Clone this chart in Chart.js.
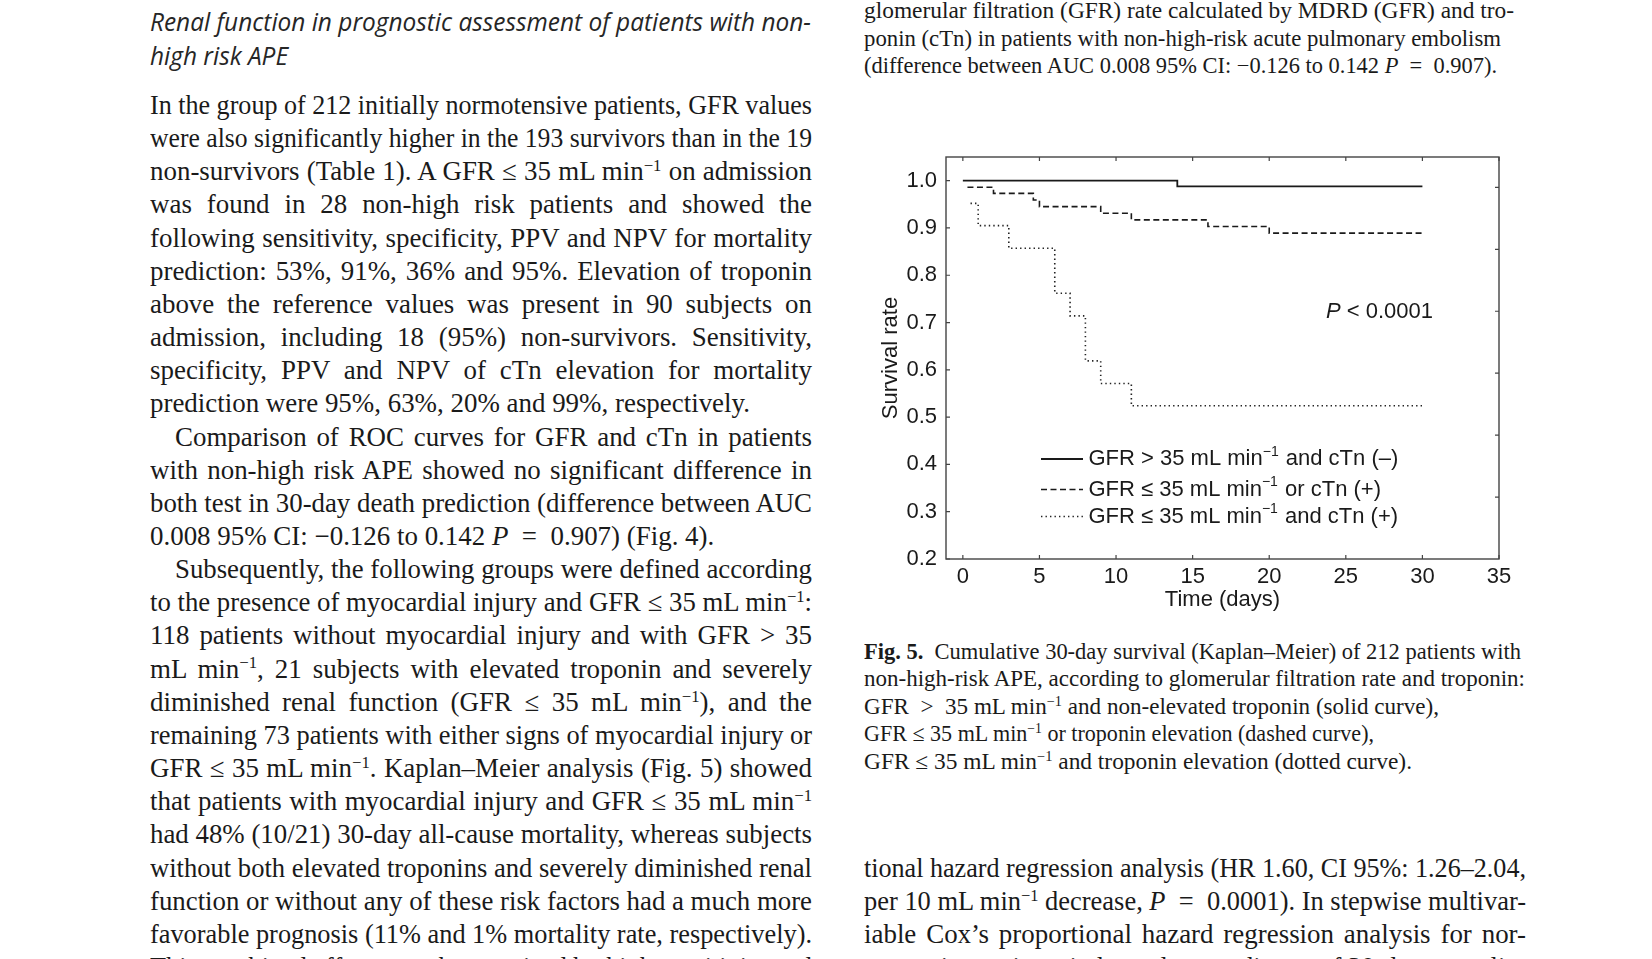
<!DOCTYPE html>
<html><head><meta charset="utf-8">
<script src="https://cdn.jsdelivr.net/npm/chart.js@4.4.1/dist/chart.umd.min.js"></script>
<style>
html,body{margin:0;padding:0;background:#fff;}
body{width:1652px;height:959px;overflow:hidden;position:relative;}
.ln{position:absolute;white-space:nowrap;transform-origin:0 0;color:#1a1a1a;}
.ln sup{font-size:0.62em;line-height:0;vertical-align:0;position:relative;top:-0.55em;}
#chartBox{position:absolute;left:860px;top:130px;width:680px;height:490px;}
</style></head>
<body>
<div id="chartBox"><canvas id="km"></canvas></div>
<script>
// ---------------- chart data ----------------
const solidT = [0, 14, 30];
const solidS = [1.0, 0.988, 0.988];
const dashT  = [0.3, 2, 4.6, 5, 9, 11, 16, 20, 30];
const dashS  = [0.986, 0.973, 0.959, 0.945, 0.931, 0.917, 0.903, 0.889, 0.889];
const dotT   = [0.5, 1, 3, 6, 7, 8, 9, 11, 30];
const dotS   = [0.952, 0.905, 0.857, 0.762, 0.714, 0.619, 0.571, 0.524, 0.524];
const seriesLabels = ['GFR > 35 mL min⁻¹ and cTn (–)', 'GFR ≤ 35 mL min⁻¹ or cTn (+)', 'GFR ≤ 35 mL min⁻¹ and cTn (+)'];
const xTicks = [0, 5, 10, 15, 20, 25, 30, 35];
const yTicks = [0.2, 0.3, 0.4, 0.5, 0.6, 0.7, 0.8, 0.9, 1.0];
const rightTicks = [1, 2, 3, 4, 5, 6];
const xTitle = 'Time (days)';
const yTitle = 'Survival rate';
const pText = ['P', ' < 0.0001'];

// ---------------- page text ----------------
const headingLines = ['Renal function in prognostic assessment of patients with non-', 'high risk APE'];
const leftLines = [
 ['In the group of 212 initially normotensive patients, GFR values','j'],
 ['were also significantly higher in the 193 survivors than in the 19','j'],
 ['non-survivors (Table 1). A GFR ≤ 35 mL min<sup>−1</sup> on admission','j'],
 ['was found in 28 non-high risk patients and showed the','j'],
 ['following sensitivity, specificity, PPV and NPV for mortality','j'],
 ['prediction: 53%, 91%, 36% and 95%. Elevation of troponin','j'],
 ['above the reference values was present in 90 subjects on','j'],
 ['admission, including 18 (95%) non-survivors. Sensitivity,','j'],
 ['specificity, PPV and NPV of cTn elevation for mortality','j'],
 ['prediction were 95%, 63%, 20% and 99%, respectively.','n'],
 ['Comparison of ROC curves for GFR and cTn in patients','ji'],
 ['with non-high risk APE showed no significant difference in','j'],
 ['both test in 30-day death prediction (difference between AUC','j'],
 ['0.008 95% CI: −0.126 to 0.142 <i>P</i> &nbsp;= &nbsp;0.907) (Fig. 4).','n'],
 ['Subsequently, the following groups were defined according','ji'],
 ['to the presence of myocardial injury and GFR ≤ 35 mL min<sup>−1</sup>:','j'],
 ['118 patients without myocardial injury and with GFR &gt; 35','j'],
 ['mL min<sup>−1</sup>, 21 subjects with elevated troponin and severely','j'],
 ['diminished renal function (GFR ≤ 35 mL min<sup>−1</sup>), and the','j'],
 ['remaining 73 patients with either signs of myocardial injury or','j'],
 ['GFR ≤ 35 mL min<sup>−1</sup>. Kaplan–Meier analysis (Fig. 5) showed','j'],
 ['that patients with myocardial injury and GFR ≤ 35 mL min<sup>−1</sup>','j'],
 ['had 48% (10/21) 30-day all-cause mortality, whereas subjects','j'],
 ['without both elevated troponins and severely diminished renal','j'],
 ['function or without any of these risk factors had a much more','j'],
 ['favorable prognosis (11% and 1% mortality rate, respectively).','j'],
 ['This combined effect was characterized by high sensitivity and','j']
];
const fig4Lines = [
 ['glomerular filtration (GFR) rate calculated by MDRD (GFR) and tro-', 650],
 ['ponin (cTn) in patients with non-high-risk acute pulmonary embolism', 637],
 ['(difference between AUC 0.008 95% CI: −0.126 to 0.142 <i>P</i> &nbsp;= &nbsp;0.907).', 633]
];
const fig5Lines = [
 ['<b>Fig. 5.</b>&ensp;Cumulative 30-day survival (Kaplan–Meier) of 212 patients with', 657],
 ['non-high-risk APE, according to glomerular filtration rate and troponin:', 661],
 ['GFR &nbsp;&gt;&nbsp; 35 mL min<sup>−1</sup> and non-elevated troponin (solid curve),', 575],
 ['GFR ≤ 35 mL min<sup>−1</sup> or troponin elevation (dashed curve),', 510],
 ['GFR ≤ 35 mL min<sup>−1</sup> and troponin elevation (dotted curve).', 548]
];
const rightLines = [
 ['tional hazard regression analysis (HR 1.60, CI 95%: 1.26–2.04,','j'],
 ['per 10 mL min<sup>−1</sup> decrease, <i>P</i> &nbsp;= &nbsp;0.0001). In stepwise multivar-','j'],
 ['iable Cox’s proportional hazard regression analysis for nor-','j'],
 ['motensive patients independent predictors of 30-day mortality','j']
];

function makeLine(html, x, cy, font, size){
  const el = document.createElement('div');
  el.className = 'ln';
  el.style.left = x + 'px';
  el.style.top = (cy - size/2) + 'px';
  el.style.font = font;
  el.style.lineHeight = size + 'px';
  el.innerHTML = html;
  document.body.appendChild(el);
  return el;
}
function natW(el){ return el.getBoundingClientRect().width; }

const serif = "'Liberation Serif','Times New Roman',serif";
const BODY = 27, CAP = 22.5;

// heading
(function(){
  const size = 25, f = `italic 400 ${size}px 'Open Sans', sans-serif`;
  const e0 = makeLine(headingLines[0], 150, 21, f, size);
  const c = 661 / natW(e0);
  e0.style.transform = `scaleX(${c})`;
  const e1 = makeLine(headingLines[1], 150, 55, f, size);
  e1.style.transform = `scaleX(${c})`;
  e0.style.color = e1.style.color = '#262626';
})();

function column(lines, x, y0, dy, width, cRef){
  const f = `${BODY}px ${serif}`;
  const r = makeLine(cRef[0], x, -200, f, BODY);
  const c = cRef[1] / natW(r);
  r.remove();
  lines.forEach((ln, i) => {
    const ind = ln[1] === 'ji' ? 25 : 0;
    const el = makeLine(ln[0], x + ind, y0 + i*dy, f, BODY);
    const w = natW(el);
    if (ln[1] === 'n') { el.style.transform = `scaleX(${c})`; return; }
    const target = width - ind;
    if (w * c > target) { el.style.transform = `scaleX(${target / w})`; return; }
    const spaces = (el.textContent.trim().match(/ /g) || []).length || 1;
    el.style.wordSpacing = ((target / c - w) / spaces) + 'px';
    el.style.transform = `scaleX(${c})`;
  });
  return c;
}
const refLine = [leftLines[9][0], 600];
column(leftLines, 150, 105.4, 33.16, 662, refLine);
column(rightLines, 864, 868.2, 33.16, 662, refLine);

function fitLines(lines, x, y0, dy){
  const f = `${CAP}px ${serif}`;
  lines.forEach((ln, i) => {
    const el = makeLine(ln[0], x, y0 + i*dy, f, CAP);
    el.style.transform = `scaleX(${ln[1] / natW(el)})`;
  });
}
fitLines(fig4Lines, 864, 11.6, 27.4);
fitLines(fig5Lines, 864, 652.2, 27.4);

// ---------------- chart ----------------
const SANS = "'Liberation Sans', Arial, Helvetica, sans-serif";
const FS = 22;
Chart.defaults.font.family = SANS;
Chart.defaults.font.size = FS;
Chart.defaults.color = '#1a1a1a';

function toPts(t, s){ return t.map((v, i) => ({x: v, y: s[i]})); }

const decor = {
  id: 'kmDecor',
  afterDatasetsDraw(chart, args, opts){
    const {ctx, chartArea: a, scales} = chart;
    const {x, y, y2} = scales;
    ctx.save();
    ctx.strokeStyle = opts.frameColor; ctx.lineWidth = 1.4; ctx.setLineDash([]);
    ctx.strokeRect(a.left, a.top, a.right - a.left, a.bottom - a.top);
    ctx.lineWidth = 1.2;
    ctx.beginPath();
    const L = opts.tickLen;
    x.ticks.forEach(t => { const p = x.getPixelForValue(t.value);
      ctx.moveTo(p, a.bottom); ctx.lineTo(p, a.bottom - L);
      ctx.moveTo(p, a.top); ctx.lineTo(p, a.top + L); });
    y.ticks.forEach(t => { const p = y.getPixelForValue(t.value);
      ctx.moveTo(a.left, p); ctx.lineTo(a.left + L, p); });
    y2.ticks.forEach(t => { const p = y2.getPixelForValue(t.value);
      ctx.moveTo(a.right, p); ctx.lineTo(a.right - L, p); });
    ctx.stroke();
    const px = x.getPixelForValue(opts.pAt[0]), py = y.getPixelForValue(opts.pAt[1]);
    ctx.fillStyle = '#1a1a1a'; ctx.textBaseline = 'middle'; ctx.textAlign = 'left';
    ctx.font = `italic ${FS}px ${SANS}`;
    ctx.fillText(pText[0], px, py);
    const w0 = ctx.measureText(pText[0]).width;
    ctx.font = `${FS}px ${SANS}`;
    ctx.fillText(pText[1], px + w0, py);
    chart.data.datasets.forEach((ds, i) => {
      const ly = a.top + opts.legendRows[i];
      ctx.strokeStyle = ds.borderColor; ctx.lineWidth = ds.borderWidth;
      ctx.setLineDash(ds.borderDash || []);
      ctx.beginPath(); ctx.moveTo(a.left + opts.legendX[0], ly); ctx.lineTo(a.left + opts.legendX[1], ly); ctx.stroke();
      ctx.setLineDash([]);
      const parts = ds.label.split('⁻¹');
      let tx = a.left + opts.legendX[2];
      ctx.font = `${FS}px ${SANS}`;
      ctx.fillText(parts[0], tx, ly); tx += ctx.measureText(parts[0]).width;
      ctx.font = `14px ${SANS}`;
      ctx.fillText('−1', tx, ly - 7); tx += ctx.measureText('−1').width + 1;
      ctx.font = `${FS}px ${SANS}`;
      ctx.fillText(parts[1], tx, ly);
    });
    ctx.restore();
  }
};

new Chart(document.getElementById('km'), {
  type: 'line',
  data: { datasets: [
    { label: seriesLabels[0], data: toPts(solidT, solidS), borderColor: '#1a1a1a', borderWidth: 1.8, stepped: true, pointRadius: 0, fill: false },
    { label: seriesLabels[1], data: toPts(dashT, dashS), borderColor: '#1a1a1a', borderWidth: 1.6, borderDash: [6, 3.5], stepped: true, pointRadius: 0, fill: false },
    { label: seriesLabels[2], data: toPts(dotT, dotS), borderColor: '#222', borderWidth: 1.6, borderDash: [1.4, 3.1], stepped: true, pointRadius: 0, fill: false }
  ]},
  options: {
    animation: false, responsive: true, maintainAspectRatio: false,
    layout: { padding: { top: 27, right: 41, left: 0, bottom: 0 } },
    plugins: {
      legend: { display: false }, tooltip: { enabled: false },
      kmDecor: { frameColor: '#444', tickLen: 4, pAt: [23.7, 0.723], legendRows: [302, 332.5, 359.5], legendX: [95, 137, 142.5] }
    },
    scales: {
      x: { type: 'linear', min: -1.1, max: 35,
        afterBuildTicks: s => { s.ticks = xTicks.map(v => ({value: v})); },
        afterFit: s => { s.height = 61; },
        grid: { display: false, drawTicks: false }, border: { display: false },
        ticks: { padding: 5, maxRotation: 0, autoSkip: false, callback: v => String(v) },
        title: { display: true, text: xTitle, font: { size: FS }, padding: { top: 0, bottom: 7 } } },
      y: { type: 'linear', min: 0.2, max: 1.05,
        afterBuildTicks: s => { s.ticks = yTicks.map(v => ({value: v})); },
        afterFit: s => { s.width = 86; },
        grid: { display: false, drawTicks: false }, border: { display: false },
        ticks: { padding: 9, autoSkip: false, callback: v => v.toFixed(1) },
        title: { display: true, text: yTitle, font: { size: FS }, padding: { top: 18, bottom: 0 } } },
      y2: { type: 'linear', position: 'right', min: 0, max: 6.49,
        afterBuildTicks: s => { s.ticks = rightTicks.map(v => ({value: v})); },
        afterFit: s => { s.width = 0; },
        grid: { display: false, drawTicks: false }, border: { display: false },
        ticks: { display: false } }
    }
  },
  plugins: [decor]
});
</script>
</body></html>
